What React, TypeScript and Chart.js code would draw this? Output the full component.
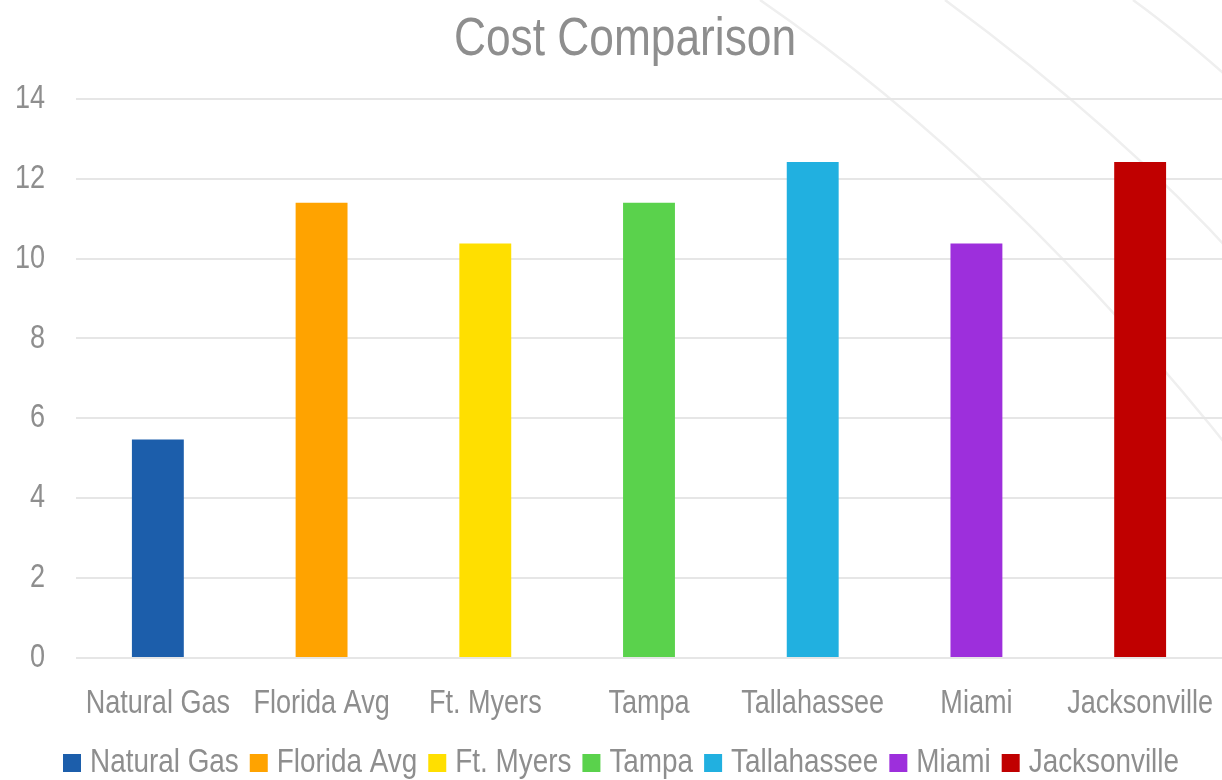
import React, { useEffect, useRef } from "react";
import { Chart, registerables } from "chart.js";

Chart.register(...registerables);

const chartTitle = "Cost Comparison";
const categories = ["Natural Gas", "Florida Avg", "Ft. Myers", "Tampa", "Tallahassee", "Miami", "Jacksonville"];
const costs = [5.47, 11.4, 10.38, 11.4, 12.42, 10.38, 12.42];
const barColors = ["#1c5eab", "#ffa300", "#ffdf00", "#5ad24c", "#21b0e0", "#9d2fdc", "#c00000"];
const yMin = 0;
const yMax = 14;
const yStep = 2;

const FONT = '"Liberation Sans", Arial, sans-serif';
const TEXT = "#8e8e8e";
// horizontal condensing to imitate a narrow typeface (Arial Narrow ≈ 82% of Arial)
const NARROW = 0.82;

function condenseContext(ctx: CanvasRenderingContext2D) {
  const anyCtx = ctx as any;
  if (anyCtx.__condensed) return;
  anyCtx.__condensed = true;
  const origMeasure = ctx.measureText.bind(ctx);
  const origFill = ctx.fillText.bind(ctx);
  anyCtx.measureText = (t: string) => {
    const m = origMeasure(t);
    return {
      width: m.width * NARROW,
      actualBoundingBoxAscent: m.actualBoundingBoxAscent,
      actualBoundingBoxDescent: m.actualBoundingBoxDescent,
      actualBoundingBoxLeft: m.actualBoundingBoxLeft * NARROW,
      actualBoundingBoxRight: m.actualBoundingBoxRight * NARROW,
      fontBoundingBoxAscent: m.fontBoundingBoxAscent,
      fontBoundingBoxDescent: m.fontBoundingBoxDescent,
    };
  };
  anyCtx.fillText = (t: string, x: number, y: number, mw?: number) => {
    const w = origMeasure(t).width * NARROW;
    origFill(t, x, y, mw !== undefined && mw !== null ? Math.min(mw, w) : w);
  };
}

const backdropCurves = {
  id: "backdropCurves",
  beforeDraw(chart: any) {
    const ctx = chart.ctx;
    ctx.save();
    ctx.strokeStyle = "#efefef";
    ctx.lineWidth = 2.5;
    ctx.beginPath();
    ctx.moveTo(760, 0);
    ctx.quadraticCurveTo(1010, 172, 1240, 462);
    ctx.moveTo(945, 0);
    ctx.quadraticCurveTo(1121, 130, 1240, 262);
    ctx.moveTo(1133, 0);
    ctx.quadraticCurveTo(1180, 34, 1240, 88);
    ctx.stroke();
    ctx.restore();
  },
};

export default function App() {
  const ref = useRef<HTMLCanvasElement>(null);

  useEffect(() => {
    document.body.style.margin = "0";
    document.body.style.overflow = "hidden";
    const canvas = ref.current!;
    const ctx = canvas.getContext("2d")!;
    condenseContext(ctx);
    const chart = new Chart(ctx, {
      type: "bar",
      data: {
        labels: categories,
        datasets: [
          {
            label: chartTitle,
            data: costs,
            backgroundColor: barColors,
            borderWidth: 0,
            categoryPercentage: 1,
            barPercentage: 0.317,
          },
        ],
      },
      plugins: [backdropCurves],
      options: {
        animation: false,
        responsive: false,
        maintainAspectRatio: false,
        layout: { padding: { left: 0, right: 0, top: 0, bottom: -10 } },
        plugins: {
          title: {
            display: true,
            text: chartTitle,
            color: TEXT,
            font: { family: FONT, size: 54, weight: "normal", lineHeight: 1.2 },
            padding: { top: 8, bottom: 26 },
          },
          legend: {
            display: true,
            position: "bottom",
            labels: {
              color: TEXT,
              font: { family: FONT, size: 34 },
              usePointStyle: true,
              boxWidth: 2,
              boxHeight: 18,
              padding: 19,
              generateLabels: () =>
                categories.map((c, i) => ({
                  text: c,
                  fillStyle: barColors[i],
                  strokeStyle: barColors[i],
                  lineWidth: 0,
                  pointStyle: "rect",
                  hidden: false,
                  index: i,
                  datasetIndex: 0,
                  fontColor: TEXT,
                })),
            },
            onClick: () => {},
          },
          tooltip: { enabled: false },
        },
        scales: {
          x: {
            grid: { display: false, drawTicks: false },
            border: { display: false },
            ticks: {
              color: TEXT,
              font: { family: FONT, size: 33 },
              padding: 26,
              maxRotation: 0,
              autoSkip: false,
            },
            afterFit: (axis: any) => {
              axis.height = 69;
              axis.paddingLeft = 0;
              axis.paddingRight = 0;
            },
          },
          y: {
            min: yMin,
            max: yMax,
            grid: { color: "#e6e6e6", lineWidth: 2, drawTicks: false },
            border: { display: false },
            ticks: {
              stepSize: yStep,
              color: TEXT,
              font: { family: FONT, size: 33 },
              padding: 31,
            },
            afterFit: (axis: any) => {
              axis.width = 76;
            },
          },
          yRight: {
            position: "right",
            display: true,
            min: yMin,
            max: yMax,
            grid: { display: false, drawTicks: false },
            border: { display: false },
            ticks: { display: false },
            afterFit: (axis: any) => {
              axis.width = 28;
            },
          },
        },
      },
    });
    return () => chart.destroy();
  }, []);

  return (
    <div style={{ width: 1222, height: 780, overflow: "hidden" }}>
      <canvas ref={ref} width={1250} height={780} style={{ display: "block", width: 1250, height: 780 }} />
    </div>
  );
}
